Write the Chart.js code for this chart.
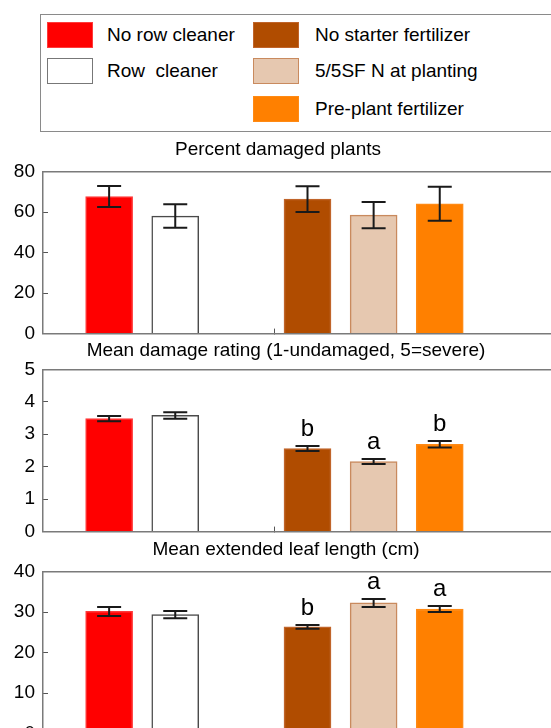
<!DOCTYPE html>
<html>
<head>
<meta charset="utf-8">
<script src="https://cdn.jsdelivr.net/npm/chart.js@4.4.1/dist/chart.umd.min.js"></script>
<style>
  html, body { margin: 0; padding: 0; background: #fff; overflow: hidden; width: 551px; height: 728px; }
  body { position: relative; font-family: "Liberation Sans", Arial, sans-serif; }
  .legend { position: absolute; left: 40px; top: 14px; width: 560px; height: 118px; border: 1.5px solid #8a8a8a; box-sizing: border-box; }
  .sw { position: absolute; width: 46px; height: 26px; box-sizing: border-box; }
  .lab { position: absolute; font-size: 19px; line-height: 26px; white-space: pre; color: #000; }
  canvas { position: absolute; left: 0; }
</style>
</head>
<body>
<div class="legend"></div>
<div id="legendItems"></div>
<canvas id="c1" width="600" height="220" style="top:138px"></canvas>
<canvas id="c2" width="600" height="217" style="top:339px"></canvas>
<canvas id="c3" width="600" height="220" style="top:538px"></canvas>
<script>
// treatments, left group = row cleaner, right group = fertilizer
const categories = ['No row cleaner', 'Row  cleaner', 'No starter fertilizer', '5/5SF N at planting', 'Pre-plant fertilizer'];

const pctDamaged = [67.8, 58.1, 66.5, 58.6, 64.2];
const pctDamagedSE = [5.2, 5.8, 6.4, 6.5, 8.4];
const pctTicks = [0, 20, 40, 60, 80];

const damageRating = [3.48, 3.58, 2.56, 2.16, 2.69];
const damageRatingSE = [0.08, 0.1, 0.08, 0.08, 0.1];
const damageRatingLetters = ['', '', 'b', 'a', 'b'];
const ratingTicks = [0, 1, 2, 3, 4, 5];

const leafLength = [30.2, 29.4, 26.4, 32.3, 30.8];
const leafLengthSE = [1.1, 0.9, 0.45, 1.0, 0.75];
const leafLengthLetters = ['', '', 'b', 'a', 'a'];
const leafTicks = [0, 10, 20, 30, 40];

// styling per treatment
const fills = ['#ff0000', '#ffffff', '#b04c00', '#e6c8b0', '#ff8000'];
const edges = ['#ff3a3a', '#4a4a4a', '#c0642a', '#c98a5e', '#ff8a14'];

// empty slots give the gap between the two groups
const slots = [null, 0, 1, null, 2, 3, 4, null, null];
const pick = (arr, blank) => slots.map(i => i === null ? blank : arr[i]);

// legend (html, real text)
const legendPos = [[47, 22, 107], [47, 58, 107], [253, 22, 315], [253, 58, 315], [253, 96, 315]];
const legendWrap = document.getElementById('legendItems');
categories.forEach((c, i) => {
  const [x, y, tx] = legendPos[i];
  const sw = document.createElement('div');
  sw.className = 'sw';
  sw.style.left = x + 'px'; sw.style.top = y + 'px';
  sw.style.background = fills[i];
  sw.style.border = '1px solid ' + (i === 1 ? '#777' : edges[i]);
  legendWrap.appendChild(sw);
  const lab = document.createElement('div');
  lab.className = 'lab';
  lab.style.left = tx + 'px'; lab.style.top = y + 'px';
  lab.textContent = c;
  legendWrap.appendChild(lab);
});

// error bars + significance letters, positioned through the y scale
const errorBars = {
  id: 'errorBars',
  afterDatasetsDraw(chart, args, opts) {
    const { ctx } = chart;
    const y = chart.scales.y;
    const ds = chart.data.datasets[0];
    const meta = chart.getDatasetMeta(0);
    ctx.save();
    ctx.strokeStyle = '#1a1a1a';
    ctx.lineWidth = 2;
    ctx.fillStyle = '#000';
    ctx.font = '24px "Liberation Sans", Arial, sans-serif';
    ctx.textAlign = 'center';
    ctx.textBaseline = 'alphabetic';
    meta.data.forEach((bar, i) => {
      const v = ds.data[i];
      if (v === null) return;
      const e = opts.errors[i];
      const top = y.getPixelForValue(v + e);
      const bot = y.getPixelForValue(v - e);
      ctx.beginPath();
      ctx.moveTo(bar.x, top); ctx.lineTo(bar.x, bot);
      ctx.moveTo(bar.x - 12, top); ctx.lineTo(bar.x + 12, top);
      ctx.moveTo(bar.x - 12, bot); ctx.lineTo(bar.x + 12, bot);
      ctx.stroke();
      const letter = opts.letters ? opts.letters[i] : '';
      if (letter) ctx.fillText(letter, bar.x, top - 10);
    });
    ctx.restore();
  }
};

// shiftLeft moves the title box left without moving the plot
function makePanel(id, title, values, errors, letters, ticks, titleGap, shiftLeft) {
  const axisGray = '#7a7a7a';
  return new Chart(document.getElementById(id), {
    type: 'bar',
    data: {
      labels: pick(categories, ''),
      datasets: [{
        data: pick(values, null),
        backgroundColor: pick(fills, 'transparent'),
        borderColor: pick(edges, 'transparent'),
        borderWidth: 1.5,
        barThickness: 47
      }]
    },
    plugins: [errorBars],
    options: {
      responsive: false,
      animation: false,
      events: [],
      // bottom space comes from the y tick label padding
      layout: { padding: { left: -shiftLeft, right: 28, top: 0, bottom: 0 } },
      plugins: {
        legend: { display: false },
        tooltip: { enabled: false },
        title: {
          display: true, text: title, color: '#000',
          font: { size: 19, weight: 'normal', family: '"Liberation Sans", Arial, sans-serif' },
          padding: { top: 0, bottom: titleGap }
        },
        errorBars: { errors: pick(errors, 0), letters: letters ? pick(letters, '') : null }
      },
      scales: {
        x: {
          offset: false,
          afterFit: s => { s.height = 0; },
          ticks: { display: false },
          grid: {
            offset: true, drawOnChartArea: false, drawTicks: true, tickLength: -5, lineWidth: 1,
            color: ctx => ctx.index === 4 ? '#555' : 'rgba(0,0,0,0)'
          },
          border: { display: true, color: axisGray, width: 1.5 }
        },
        xTop: {
          type: 'category', position: 'top', offset: false,
          ticks: { display: false },
          grid: { display: false, drawTicks: false },
          border: { display: true, color: axisGray, width: 1.5 }
        },
        y: {
          min: ticks[0], max: ticks[ticks.length - 1],
          afterFit: s => { s.width = 43 + shiftLeft; },
          afterBuildTicks: s => { s.ticks = ticks.map(v => ({ value: v })); },
          ticks: {
            color: '#000', padding: 13,
            font: { size: 19, family: '"Liberation Sans", Arial, sans-serif' }
          },
          grid: { drawOnChartArea: false, drawTicks: true, tickLength: -5, color: '#555', lineWidth: 1 },
          border: { display: true, color: axisGray, width: 1.5 }
        }
      }
    }
  });
}

makePanel('c1', 'Percent damaged plants', pctDamaged, pctDamagedSE, null, pctTicks, 11, 16);
makePanel('c2', 'Mean damage rating (1-undamaged, 5=severe)', damageRating, damageRatingSE, damageRatingLetters, ratingTicks, 7.5, 0);
makePanel('c3', 'Mean extended leaf length (cm)', leafLength, leafLengthSE, leafLengthLetters, leafTicks, 11, 0);
</script>
</body>
</html>
